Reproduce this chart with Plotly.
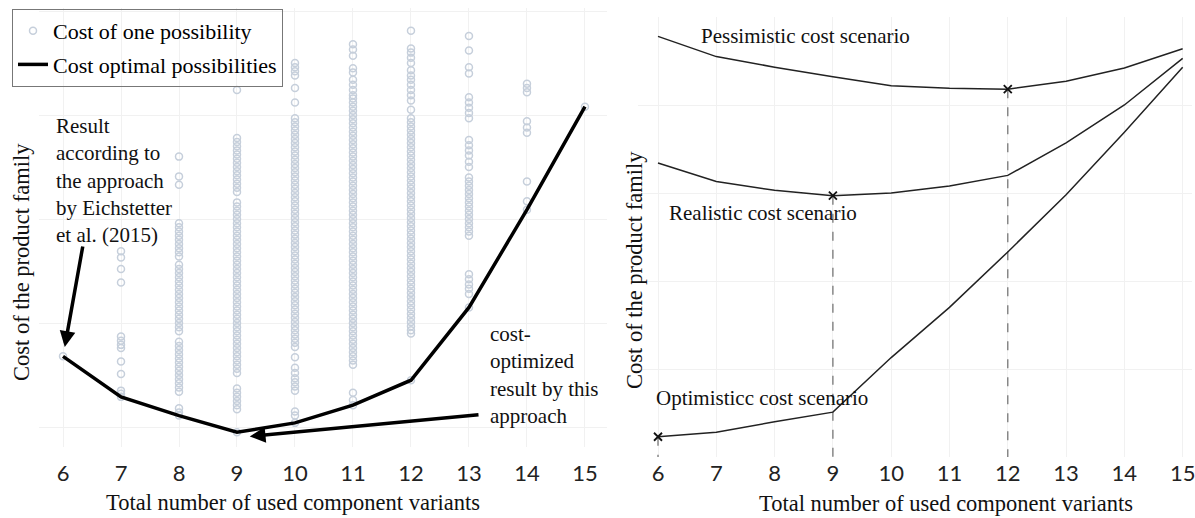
import plotly.graph_objects as go

# ---------------- data ----------------
variants = [6, 7, 8, 9, 10, 11, 12, 13, 14, 15]

# left panel: cost of every possibility per number of component variants
poss_6 = [168]
poss_7 = [269, 263, 252, 239, 187, 183, 179, 176, 163, 151, 135, 132, 129]
poss_8 = [360, 341, 333,
          296, 292, 288, 284, 280, 276, 272, 268, 264, 256, 252, 248, 244, 240,
          236, 232, 228, 224, 220, 216, 212, 208, 204, 200, 196, 192, 182, 178,
          174, 170, 166, 162, 158, 154, 150, 146, 142, 138, 134,
          118, 114, 111]
poss_9 = [424,
          378, 374, 370, 366, 362, 358, 354, 350, 346, 342, 338, 334, 330, 326,
          316, 312, 308, 304, 300, 296, 292, 288, 284, 280, 276, 272, 268, 264,
          260, 256, 252, 248, 244, 240, 236, 232, 228, 224, 220, 216, 212, 208,
          204, 200, 196, 192, 188, 184, 180, 176, 172, 168, 164, 160, 156, 152,
          137, 133, 129, 125, 121, 117,
          95]
poss_10 = [450, 446, 442, 438, 426, 412,
           397, 393, 389, 385, 381, 377, 373, 369, 365, 361, 357, 353, 349, 345,
           341, 337, 333, 329, 325, 321, 317, 313, 309, 305, 301, 297, 293, 289,
           285, 281, 277, 273, 269, 265, 261, 257, 253, 249, 245, 241, 237, 233,
           229, 225, 221, 217, 213, 209, 205, 201, 197, 193, 189, 185, 181, 177,
           167, 157, 152, 147, 143, 139, 135, 115, 111, 104]
poss_11 = [468, 463, 457, 445, 441, 434, 429, 424, 419,
           416, 412, 408, 404, 400, 396, 392, 388, 384, 380, 376, 372, 368, 364,
           360, 356, 352, 348, 344, 340, 336, 332, 328, 324, 320, 316, 312, 308,
           304, 300, 296, 292, 288, 284, 280, 276, 272, 268, 264, 260, 256, 252,
           248, 244, 240, 236, 232, 228, 224, 220, 216, 212, 208, 204, 200, 196,
           192, 188, 184, 180, 176, 172, 168, 164, 160,
           133, 126, 121]
poss_12 = [481, 464, 460, 455, 450, 443, 438, 434, 429, 424, 419, 414, 405,
           397, 393, 389, 385, 381, 377, 373, 369, 365, 361, 357, 353, 349, 345,
           341, 337, 333, 329, 325, 321, 317, 313, 309, 305, 301, 297, 293, 289,
           285, 281, 277, 273, 269, 265, 261, 257, 253, 249, 245, 241, 237, 233,
           229, 225, 221, 217, 213, 209, 205, 201, 197, 193, 190,
           145]
poss_13 = [476, 462, 446, 440, 417, 412, 407, 402, 397, 376, 371, 366, 361, 355,
           350, 340, 336, 332, 328, 324, 320, 316, 312, 308, 304, 300, 296, 292,
           288, 284, 247, 242, 237, 233, 228, 215]
poss_14 = [430, 426, 422, 394, 388, 383, 336, 317, 309]
poss_15 = [408]
possibilities = [poss_6, poss_7, poss_8, poss_9, poss_10,
                 poss_11, poss_12, poss_13, poss_14, poss_15]

# left panel: cost optimal possibility per number of variants
optimal_cost = [168, 129, 111, 95, 104, 121, 145, 215, 309, 408]

# right panel: cost scenarios
pessimistic = [478, 455, 443, 432, 422, 419, 418, 427, 442, 464]
realistic = [334, 313, 303, 297, 300, 308, 320, 357, 400, 453]
optimistic = [23, 28, 40, 51, 113, 170, 233, 298, 369, 443]
scenario_floor = 0

# ---------------- figure ----------------
SERIF = "Liberation Serif"
SANS = "Lato"
fig = go.Figure()

sx, sy = [], []
for v, vals in zip(variants, possibilities):
    sx += [v] * len(vals)
    sy += vals
fig.add_trace(go.Scatter(
    x=sx, y=sy, mode="markers", name="Cost of one possibility",
    marker=dict(symbol="circle-open", size=7, color="#c6cfdb",
                line=dict(width=1.5, color="#c6cfdb")),
    xaxis="x", yaxis="y", legendgroup="a"))
fig.add_trace(go.Scatter(
    x=variants, y=optimal_cost, mode="lines", name="Cost optimal possibilities",
    line=dict(color="black", width=3.5), xaxis="x", yaxis="y", legendgroup="b"))

for series in (pessimistic, realistic, optimistic):
    fig.add_trace(go.Scatter(
        x=variants, y=series, mode="lines", showlegend=False,
        line=dict(color="#222222", width=1.5), xaxis="x2", yaxis="y2"))
    i = series.index(min(series))
    fig.add_trace(go.Scatter(
        x=[variants[i], variants[i]], y=[series[i], scenario_floor], mode="lines",
        showlegend=False, line=dict(color="#777777", width=1.3, dash="dash"),
        xaxis="x2", yaxis="y2"))
    fig.add_trace(go.Scatter(
        x=[variants[i]], y=[series[i]], mode="markers", showlegend=False,
        marker=dict(symbol="x-thin", size=8, line=dict(width=1.8, color="#111111")),
        xaxis="x2", yaxis="y2"))

grid = "#f1f1f1"
fig.update_layout(
    width=1195, height=518, margin=dict(l=0, r=0, t=0, b=0),
    paper_bgcolor="white", plot_bgcolor="white", template="none",
    showlegend=True,
    legend=dict(x=12 / 1195, y=1 - 9 / 518, xanchor="left", yanchor="top",
                bordercolor="#777777", borderwidth=1, bgcolor="rgba(255,255,255,0)",
                font=dict(family=SERIF, size=22, color="black"),
                itemwidth=30, tracegroupgap=2, traceorder="grouped"),
    xaxis=dict(domain=[39 / 1195, 607 / 1195], range=[5.586, 15.38],
               tickvals=variants, showgrid=True, gridcolor=grid, zeroline=False,
               showline=False, ticks="", ticklabelstandoff=11,
               ticklabeloverflow="allow",
               tickfont=dict(family=SANS, size=22, color="#222222")),
    yaxis=dict(domain=[1 - 447 / 518, 1 - 8 / 518], range=[80.8, 502.9],
               tick0=0, dtick=100, showgrid=True, gridcolor=grid, zeroline=False,
               showticklabels=False, showline=False, ticks=""),
    xaxis2=dict(domain=[638 / 1195, 1192 / 1195], range=[5.657, 15.16],
                tickvals=variants, showgrid=True, gridcolor=grid, zeroline=False,
                showline=False, ticks="", ticklabelstandoff=1, anchor="y2",
                ticklabeloverflow="allow",
                tickfont=dict(family=SANS, size=22, color="#222222")),
    yaxis2=dict(domain=[1 - 457 / 518, 1 - 17 / 518], range=[0, 500],
                tick0=0, dtick=100, showgrid=True, gridcolor=grid, zeroline=False,
                showticklabels=False, showline=False, ticks="", anchor="x2"),
)

tfont = dict(family=SERIF, size=22.5, color="#111111")
afont = dict(family=SERIF, size=21, color="#111111")
anns = [
    dict(xref="paper", yref="paper", x=293 / 1195, y=1 - 502 / 518,
         xanchor="center", yanchor="middle",
         text="Total number of used component variants", showarrow=False, font=tfont),
    dict(xref="paper", yref="paper", x=946 / 1195, y=1 - 503 / 518,
         xanchor="center", yanchor="middle",
         text="Total number of used component variants", showarrow=False, font=tfont),
    dict(xref="paper", yref="paper", x=21 / 1195, y=1 - 262 / 518, textangle=-90,
         xanchor="center", yanchor="middle",
         text="Cost of the product family", showarrow=False, font=tfont),
    dict(xref="paper", yref="paper", x=634 / 1195, y=1 - 270 / 518, textangle=-90,
         xanchor="center", yanchor="middle",
         text="Cost of the product family", showarrow=False, font=tfont),
    dict(xref="x", yref="y", x=5.84, y=337, xanchor="left", align="left",
         text="Result<br>according to<br>the approach<br>by Eichstetter<br>et al. (2015)",
         showarrow=False, font=afont),
    dict(xref="x", yref="y", x=13.32, y=150, xanchor="left", align="left",
         text="cost-<br>optimized<br>result by this<br>approach",
         showarrow=False, font=afont),
    dict(xref="x", yref="y", x=6.03, y=177, axref="x", ayref="y", ax=6.345, ay=275,
         text="", showarrow=True, arrowhead=2, arrowsize=0.9, arrowwidth=3.5,
         arrowcolor="black"),
    dict(xref="x", yref="y", x=9.22, y=91, axref="x", ayref="y", ax=13.19, ay=112,
         text="", showarrow=True, arrowhead=2, arrowsize=0.9, arrowwidth=3.5,
         arrowcolor="black"),
    dict(xref="x2", yref="y2", x=6.7, y=478, xanchor="left",
         text="Pessimistic cost scenario", showarrow=False, font=afont),
    dict(xref="x2", yref="y2", x=6.15, y=277, xanchor="left",
         text="Realistic cost scenario", showarrow=False, font=afont),
    dict(xref="x2", yref="y2", x=5.93, y=67, xanchor="left",
         text="Optimisticc cost scenario", showarrow=False, font=afont),
]
fig.update_layout(annotations=anns)

fig.write_html("out.html", config={"displayModeBar": False},
               post_script="document.body.style.margin='0';"
                           "document.body.style.overflow='hidden';")
